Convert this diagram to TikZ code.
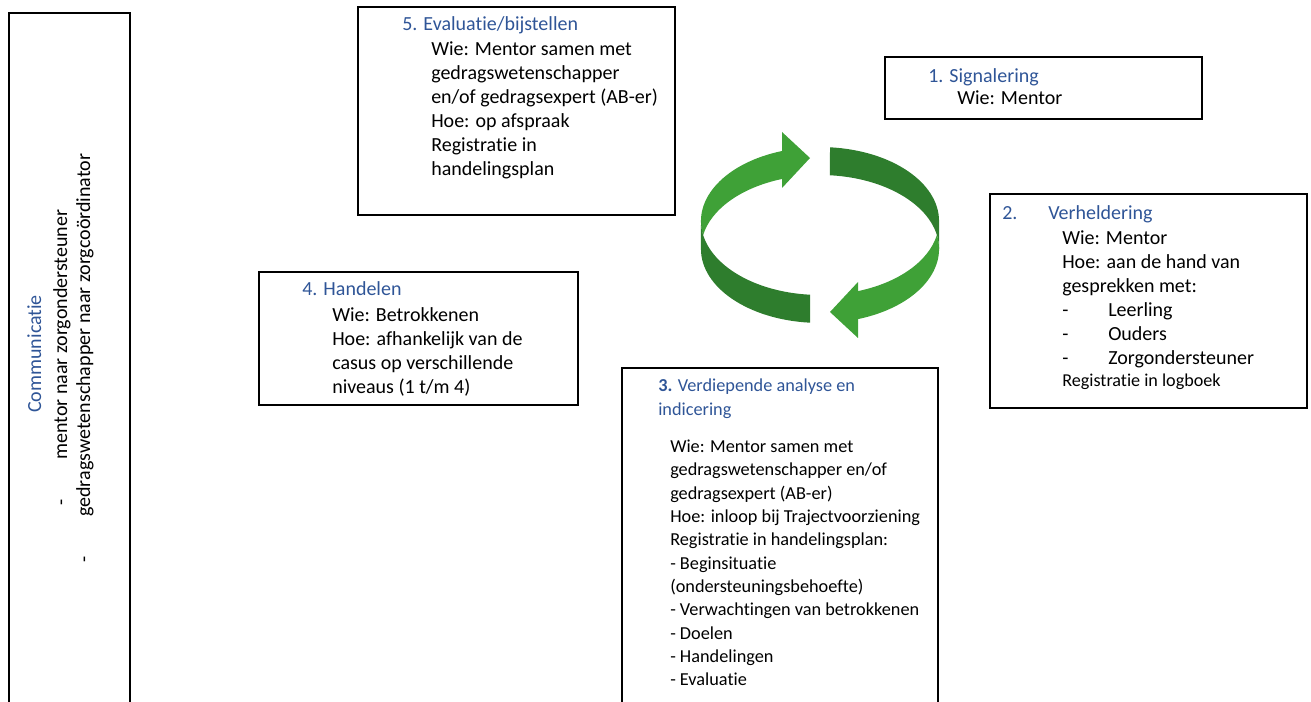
\documentclass[tikz,border=0pt]{standalone}
\usepackage{fontspec}
\setmainfont{Carlito}[Ligatures={NoCommon,NoContextual}]
\definecolor{kopblauw}{RGB}{47,85,151}
\definecolor{lichtgroen}{RGB}{63,161,55}
\definecolor{donkergroen}{RGB}{46,125,45}

\begin{document}
\begin{tikzpicture}[x=0.75pt,y=0.75pt,yscale=-1,xscale=1,
  vak/.style={draw=black,line width=1pt},
  kop/.style={text=kopblauw,inner sep=0pt,font=\fontsize{15}{18}\selectfont},
  tekst/.style={inner sep=0pt,align=left,font=\fontsize{15}{18}\selectfont},
  zij/.style={inner sep=0pt,rotate=90,anchor=base west,font=\fontsize{15}{18}\selectfont}]
\useasboundingbox (0,0) rectangle (1311,702);

%Shape: Rectangle [Communicatie]
\draw[vak] (9,13) rectangle (130,715);
%Shape: Rectangle [5]
\draw[vak] (358,7) rectangle (675,215);
%Shape: Rectangle [1]
\draw[vak] (885,57) rectangle (1202,119);
%Shape: Rectangle [2]
\draw[vak] (990,194) rectangle (1307,408);
%Shape: Rectangle [4]
\draw[vak] (259,272) rectangle (578,405);
%Shape: Rectangle [3]
\draw[vak] (622,368) rectangle (938,715);

%Shape: Circular Arrow [links boven]
\fill[lichtgroen] (782,151) arc[start angle=251.4,end angle=169.1,x radius=119,y radius=74]
  arc[start angle=190.9,end angle=251.4,x radius=119,y radius=74]
  -- (782,188) -- (810,158) -- (782,132) -- cycle;
%Shape: Circular Arrow [links onder]
\fill[donkergroen] (701,221) arc[start angle=180,end angle=94.8,x radius=119,y radius=74]
  -- (810,322.7) arc[start angle=94.8,end angle=180,x radius=119,y radius=74] -- cycle;
%Shape: Circular Arrow [rechts boven]
\fill[donkergroen] (939,249) arc[start angle=360,end angle=274.8,x radius=119,y radius=74]
  -- (830,147.3) arc[start angle=274.8,end angle=360,x radius=119,y radius=74] -- cycle;
%Shape: Circular Arrow [rechts onder]
\fill[lichtgroen] (858,319.1) arc[start angle=71.4,end angle=-10.9,x radius=119,y radius=74]
  arc[start angle=10.9,end angle=71.4,x radius=119,y radius=74]
  -- (858,282) -- (830,312) -- (858,338) -- cycle;

% Text Node
\node[kop,anchor=base west] (titel5) at (402,30.7) {5. Evaluatie/bijstellen};
% Text Node
\node[tekst,anchor=north west] (tekst5) at (431,38.9) {\strut Wie: Mentor samen met\\gedragswetenschapper\\en/of gedragsexpert (AB-er)\\Hoe: op afspraak\\Registratie in\\handelingsplan};
% Text Node
\node[kop,anchor=base west] (titel1) at (928,82.3) {1. Signalering};
% Text Node
\node[tekst,anchor=base west] (tekst1) at (957,105) {Wie: Mentor};
% Text Node
\node[kop,anchor=base west] (titel2) at (1002,219.5) {\makebox[34.5pt][l]{2.}Verheldering};
% Text Node
\node[tekst,anchor=north west] (tekst2) at (1062,227.2) {\strut Wie: Mentor\\Hoe: aan de hand van\\gesprekken met:\\\makebox[34.5pt][l]{-}Leerling\\\makebox[34.5pt][l]{-}Ouders\\\makebox[34.5pt][l]{-}Zorgondersteuner};
% Text Node
\node[tekst,anchor=base west,font=\fontsize{13.6}{17}\selectfont] (log2) at (1062,387) {Registratie in logboek};
% Text Node
\node[kop,anchor=base west] (titel4) at (302,295.7) {4. Handelen};
% Text Node
\node[tekst,anchor=north west] (tekst4) at (332,304.5) {\strut Wie: Betrokkenen\\Hoe: afhankelijk van de\\casus op verschillende\\niveaus (1 t/m 4)};
% Text Node
\node[kop,align=left,anchor=north west,font=\fontsize{13.7}{17.5}\selectfont] (titel3) at (658,375.4) {\strut\textbf{3.} Verdiepende analyse en\\indicering};
% Text Node
\node[tekst,anchor=north west,font=\fontsize{13.7}{17.5}\selectfont] (tekst3) at (670,436) {\strut Wie: Mentor samen met\\gedragswetenschapper en/of\\gedragsexpert (AB-er)\\Hoe: inloop bij Trajectvoorziening\\Registratie in handelingsplan:\\- Beginsituatie\\(ondersteuningsbehoefte)\\- Verwachtingen van betrokkenen\\- Doelen\\- Handelingen\\- Evaluatie};

% Text Node
\node[zij,text=kopblauw] (communicatie) at (41,413) {Communicatie};
% Text Node
\node[zij] (streep1) at (67,506) {-};
% Text Node
\node[zij] (regel1) at (67,460) {mentor naar zorgondersteuner};
% Text Node
\node[zij] (streep2) at (90,563) {-};
% Text Node
\node[zij] (regel2) at (90,517) {gedragswetenschapper naar zorgcoördinator};
\end{tikzpicture}
\end{document}
